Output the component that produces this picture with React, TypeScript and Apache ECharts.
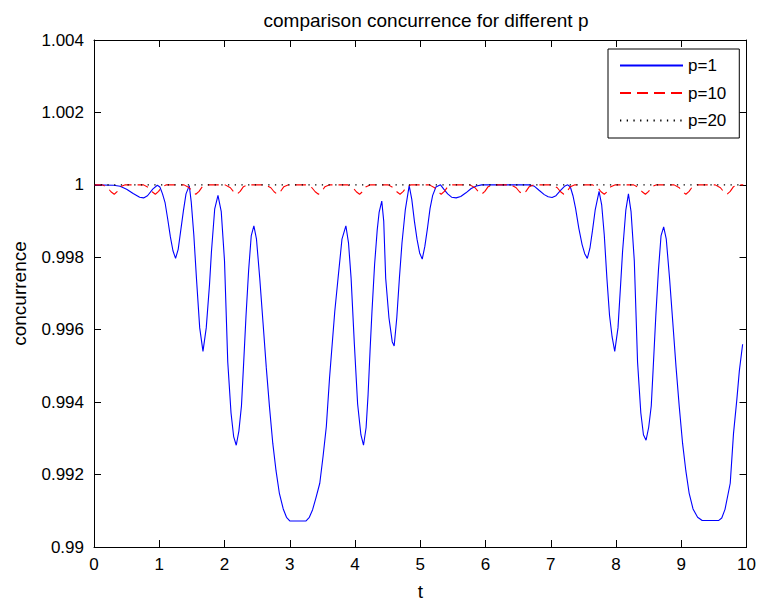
import React, { useEffect, useRef } from 'react';
import * as echarts from 'echarts';

const titleText = 'comparison concurrence for different p';
const xName = 't';
const yName = 'concurrence';
const seriesNames = ['p=1', 'p=10', 'p=20'];

const xTickLabels = ['0', '1', '2', '3', '4', '5', '6', '7', '8', '9', '10'];
const yTickLabels = ['0.99', '0.992', '0.994', '0.996', '0.998', '1', '1.002', '1.004'];

// p = 1
const blueT = [
  0, 0.3, 0.4, 0.5, 0.6, 0.7, 0.76, 0.82, 0.9, 0.97,
  1.01, 1.05, 1.09, 1.13, 1.17, 1.21, 1.25, 1.29, 1.33, 1.37, 1.41, 1.46,
  1.49, 1.53, 1.57, 1.62, 1.67, 1.72, 1.77, 1.8, 1.85, 1.9,
  1.95, 2, 2.05, 2.1, 2.14, 2.18, 2.22, 2.26, 2.29, 2.33, 2.37, 2.41, 2.45,
  2.49, 2.54, 2.59, 2.64, 2.69, 2.74, 2.79, 2.84, 2.9, 2.95, 3, 3.1, 3.2, 3.25,
  3.3, 3.35, 3.4, 3.46, 3.51, 3.56, 3.61, 3.65, 3.69, 3.74, 3.8, 3.86,
  3.9, 3.94, 3.99, 4.04, 4.09, 4.13, 4.17, 4.2, 4.23, 4.26, 4.3, 4.34, 4.37, 4.41,
  4.44, 4.47, 4.52, 4.57, 4.6, 4.64, 4.68, 4.72, 4.77, 4.83,
  4.87, 4.91, 4.95, 4.99, 5.03, 5.07, 5.11, 5.15, 5.19, 5.24, 5.31,
  5.36, 5.42, 5.48, 5.55, 5.62, 5.7, 5.78, 5.86, 5.94, 6.3, 6.67,
  6.75, 6.82, 6.9, 6.96, 7.02, 7.08, 7.15, 7.21, 7.26,
  7.3, 7.34, 7.38, 7.43, 7.48, 7.52, 7.56, 7.6, 7.64, 7.68, 7.74,
  7.78, 7.82, 7.86, 7.9, 7.94, 7.98, 8.03, 8.07, 8.1, 8.15, 8.19,
  8.23, 8.28, 8.33, 8.38, 8.42, 8.46, 8.5, 8.54, 8.57, 8.61, 8.65, 8.69, 8.73,
  8.77, 8.82, 8.87, 8.92, 8.97, 9.02, 9.07, 9.12, 9.18, 9.25, 9.32, 9.45, 9.57,
  9.62, 9.67, 9.75, 9.8, 9.85, 9.89, 9.94,
];
const blueV = [
  1, 0.99999, 0.99996, 0.99988, 0.99976, 0.99966, 0.99964, 0.9997, 0.99988, 0.99999,
  0.99994, 0.99975, 0.9995, 0.99905, 0.99857, 0.99818, 0.99797, 0.99822, 0.99875, 0.99928, 0.99975, 0.99998,
  0.99953, 0.99861, 0.99742, 0.99605, 0.9954, 0.99605, 0.99724, 0.99816, 0.99934, 0.99971,
  0.99926, 0.9979, 0.9951, 0.9937, 0.99305, 0.99281, 0.9932, 0.9939, 0.99496, 0.9964, 0.99765, 0.9986, 0.99887,
  0.9985, 0.99742, 0.9962, 0.99496, 0.99385, 0.99286, 0.9921, 0.99149, 0.99105, 0.99082, 0.99072, 0.99072, 0.99072, 0.99072,
  0.99082, 0.99103, 0.99135, 0.99176, 0.9925, 0.99332, 0.99468, 0.9956, 0.99651, 0.99742, 0.9985, 0.99887,
  0.9984, 0.99742, 0.9956, 0.99395, 0.9931, 0.99281, 0.9933, 0.9942, 0.9954, 0.99651, 0.9978, 0.99875, 0.99925, 0.99955,
  0.999, 0.99742, 0.99633, 0.99567, 0.99555, 0.99633, 0.99742, 0.9984, 0.9993, 0.99998,
  0.9996, 0.999, 0.9985, 0.99812, 0.99795, 0.9983, 0.9988, 0.99935, 0.99971, 0.99994, 1,
  0.99988, 0.99975, 0.99966, 0.99964, 0.99968, 0.99978, 0.9999, 0.99997, 1, 1, 1,
  0.99996, 0.99985, 0.99973, 0.99967, 0.99965, 0.9997, 0.99985, 0.99996, 1,
  0.99994, 0.9997, 0.99935, 0.9988, 0.99835, 0.9981, 0.99797, 0.99825, 0.99875, 0.9993, 0.99982,
  0.99945, 0.99861, 0.99742, 0.9964, 0.9958, 0.9954, 0.99605, 0.99724, 0.99816, 0.9993, 0.99975,
  0.99926, 0.9979, 0.9951, 0.9937, 0.9931, 0.99295, 0.9933, 0.9939, 0.99496, 0.9964, 0.99765, 0.9986, 0.99884,
  0.9985, 0.99742, 0.9962, 0.99496, 0.99385, 0.99286, 0.9921, 0.99149, 0.99105, 0.99082, 0.99073, 0.99073, 0.99073,
  0.9908, 0.99104, 0.99176, 0.99313, 0.99405, 0.99487, 0.9956,
];

// p = 10
const redT = [
  0,
  0.13, 0.21, 0.26, 0.31, 0.36, 0.41, 0.48,
  0.76, 0.84, 0.89, 0.94, 0.99, 1.04, 1.11,
  1.38, 1.46, 1.51, 1.56, 1.61, 1.66, 1.73,
  2.01, 2.09, 2.14, 2.19, 2.24, 2.29, 2.36,
  2.63, 2.71, 2.76, 2.81, 2.86, 2.91, 2.98,
  3.26, 3.34, 3.39, 3.44, 3.49, 3.54, 3.61,
  3.89, 3.97, 4.02, 4.07, 4.12, 4.17, 4.24,
  4.51, 4.59, 4.64, 4.69, 4.74, 4.79, 4.86,
  5.14, 5.22, 5.27, 5.32, 5.37, 5.42, 5.49,
  5.76, 5.84, 5.89, 5.94, 5.99, 6.04, 6.11,
  6.39, 6.47, 6.52, 6.57, 6.62, 6.67, 6.74,
  7.02, 7.1, 7.15, 7.2, 7.25, 7.3, 7.37,
  7.64, 7.72, 7.77, 7.82, 7.87, 7.92, 7.99,
  8.27, 8.35, 8.4, 8.45, 8.5, 8.55, 8.62,
  8.89, 8.97, 9.02, 9.07, 9.12, 9.17, 9.24,
  9.52, 9.6, 9.65, 9.7, 9.75, 9.8, 9.87,
  9.95,
];
const redV = [
  1,
  1, 0.99992, 0.99981, 0.99974, 0.99982, 0.99995, 1,
  1, 0.99992, 0.99981, 0.99974, 0.99982, 0.99995, 1,
  1, 0.99992, 0.99981, 0.99974, 0.99982, 0.99995, 1,
  1, 0.99992, 0.99981, 0.99974, 0.99982, 0.99995, 1,
  1, 0.99992, 0.99981, 0.99974, 0.99982, 0.99995, 1,
  1, 0.99992, 0.99981, 0.99974, 0.99982, 0.99995, 1,
  1, 0.99992, 0.99981, 0.99974, 0.99982, 0.99995, 1,
  1, 0.99992, 0.99981, 0.99974, 0.99982, 0.99995, 1,
  1, 0.99992, 0.99981, 0.99974, 0.99982, 0.99995, 1,
  1, 0.99992, 0.99981, 0.99974, 0.99982, 0.99995, 1,
  1, 0.99992, 0.99981, 0.99974, 0.99982, 0.99995, 1,
  1, 0.99992, 0.99981, 0.99974, 0.99982, 0.99995, 1,
  1, 0.99992, 0.99981, 0.99974, 0.99982, 0.99995, 1,
  1, 0.99992, 0.99981, 0.99974, 0.99982, 0.99995, 1,
  1, 0.99992, 0.99981, 0.99974, 0.99982, 0.99995, 1,
  1, 0.99992, 0.99981, 0.99974, 0.99982, 0.99995, 1,
  1,
];

// p = 20
const blackT = [0, 9.95];
const blackV = [1, 1];

const FONT = "'Liberation Sans', Arial, Helvetica, sans-serif";

function pairs(t: number[], v: number[]) {
  return t.map((x, i) => [x, v[i]]);
}

function buildOption() {
  const axisLine = { show: true, onZero: false, lineStyle: { color: '#000', width: 1 } };
  const axisTick = { show: true, inside: true, length: 7, lineStyle: { color: '#000', width: 1 } };
  const labelStyle = { color: '#000', fontSize: 17, fontFamily: FONT };
  return {
    animation: false,
    backgroundColor: '#fff',
    textStyle: { fontFamily: FONT },
    title: {
      text: titleText,
      left: 421,
      top: 6,
      textAlign: 'center',
      textStyle: { fontSize: 19, fontWeight: 'normal', color: '#000', fontFamily: FONT },
    },
    grid: { left: 94, right: 11, top: 40, bottom: 55, containLabel: false },
    legend: {
      orient: 'vertical',
      left: 608,
      top: 49,
      itemWidth: 63,
      itemHeight: 18,
      itemGap: 9.5,
      padding: [7.5, 13, 8.5, 11],
      borderColor: '#000',
      borderWidth: 1,
      borderRadius: 0,
      backgroundColor: '#fff',
      itemStyle: { color: 'rgba(0,0,0,0)', borderWidth: 0, opacity: 0 },
      textStyle: { color: '#000', fontSize: 17, lineHeight: 18, fontFamily: FONT },
      data: seriesNames,
    },
    xAxis: [
      {
        type: 'value',
        min: 0,
        max: 10,
        interval: 1,
        name: xName,
        nameLocation: 'middle',
        nameGap: 35,
        nameTextStyle: { color: '#000', fontSize: 19, fontFamily: FONT },
        axisLine,
        axisTick,
        axisLabel: {
          ...labelStyle,
          margin: 9,
          formatter: (v: number) => xTickLabels[Math.round(v)] ?? '',
        },
        splitLine: { show: false },
      },
      {
        type: 'value',
        position: 'top',
        min: 0,
        max: 10,
        interval: 1,
        axisLine,
        axisTick,
        axisLabel: { show: false },
        splitLine: { show: false },
      },
    ],
    yAxis: [
      {
        type: 'value',
        min: 0.99,
        max: 1.004,
        interval: 0.002,
        name: yName,
        nameLocation: 'middle',
        nameGap: 65,
        nameRotate: 90,
        nameTextStyle: { color: '#000', fontSize: 19, fontFamily: FONT },
        axisLine,
        axisTick,
        axisLabel: {
          ...labelStyle,
          margin: 10,
          formatter: (v: number) => yTickLabels[Math.round((v - 0.99) / 0.002)] ?? '',
        },
        splitLine: { show: false },
      },
      {
        type: 'value',
        position: 'right',
        min: 0.99,
        max: 1.004,
        interval: 0.002,
        axisLine,
        axisTick,
        axisLabel: { show: false },
        splitLine: { show: false },
      },
    ],
    series: [
      {
        name: seriesNames[0],
        type: 'line',
        xAxisIndex: 0,
        yAxisIndex: 0,
        data: pairs(blueT, blueV),
        symbol: 'none',
        lineStyle: { color: '#0000ff', width: 1.1 },
        itemStyle: { color: '#0000ff' },
      },
      {
        name: seriesNames[1],
        type: 'line',
        xAxisIndex: 0,
        yAxisIndex: 0,
        data: pairs(redT, redV),
        symbol: 'none',
        lineStyle: { color: '#ff0000', width: 1.1, type: [11, 6] },
        itemStyle: { color: '#ff0000' },
      },
      {
        name: seriesNames[2],
        type: 'line',
        xAxisIndex: 0,
        yAxisIndex: 0,
        data: pairs(blackT, blackV),
        symbol: 'none',
        lineStyle: { color: '#000000', width: 1.1, type: [1.3, 5.4] },
        itemStyle: { color: '#000000' },
      },
    ],
  };
}

export default function App() {
  const ref = useRef<HTMLDivElement>(null);
  useEffect(() => {
    if (!ref.current) return;
    const chart = echarts.init(ref.current, null, { renderer: 'svg' });
    chart.setOption(buildOption() as any);
    return () => chart.dispose();
  }, []);
  return (
    <div
      ref={ref}
      style={{ position: 'fixed', left: 0, top: 0, width: 759, height: 606, background: '#fff' }}
    />
  );
}
